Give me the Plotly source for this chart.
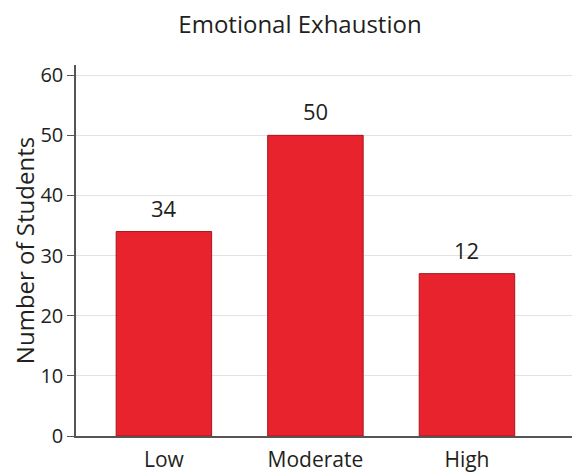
import plotly.graph_objects as go

categories = ["Low", "Moderate", "High"]
bar_values = [34, 50, 27]
bar_labels = ["34", "50", "12"]
y_ticks = [0, 10, 20, 30, 40, 50, 60]

FONT = "Open Sans"
BAR_COLOR = "#E8232E"
TEXT_COLOR = "#231f20"

fig = go.Figure()
fig.add_trace(go.Bar(
    x=categories, y=bar_values,
    marker=dict(color=BAR_COLOR, line=dict(color="#a8141c", width=1)),
    width=0.63,
))

for c, v, t in zip(categories, bar_values, bar_labels):
    fig.add_annotation(x=c, y=v, text=t, showarrow=False, yanchor="bottom",
                       yshift=7, font=dict(family=FONT, size=22, color=TEXT_COLOR))

fig.update_layout(
    width=572, height=466,
    margin=dict(l=68, r=0, t=57, b=38, autoexpand=False),
    paper_bgcolor="white", plot_bgcolor="white",
    showlegend=False,
    title=dict(text="Emotional Exhaustion", x=0.5105, xanchor="center", xref="container",
               y=0.964, yanchor="middle",
               font=dict(family=FONT, size=24, color=TEXT_COLOR)),
    font=dict(family=FONT, color=TEXT_COLOR),
)
fig.update_xaxes(
    range=[-0.58, 2.746], showline=True, linecolor="#555555", linewidth=2,
    tickfont=dict(family=FONT, size=21, color=TEXT_COLOR), ticks="", showgrid=False,
    automargin=False, ticklabelstandoff=4,
)
fig.update_yaxes(
    range=[0, 61.7], tickvals=y_ticks, showline=True, linecolor="#555555", linewidth=1.5,
    ticks="outside", ticklen=7, tickcolor="#555555", gridcolor="#e2e2e2", gridwidth=1,
    tickfont=dict(family=FONT, size=20, color=TEXT_COLOR), zeroline=False, automargin=False,
    title=dict(text="Number of Students", font=dict(family=FONT, size=24, color=TEXT_COLOR), standoff=8),
)

fig.write_html("out.html")
